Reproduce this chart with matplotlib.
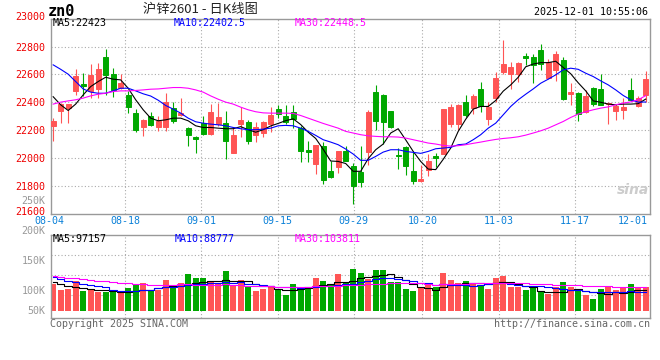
import numpy as np
import matplotlib
matplotlib.use('Agg')
import matplotlib.pyplot as plt
import matplotlib.transforms as mtransforms

# daily candles, 80 trading days 08-04 .. 12-01
opens = [22226, 22334, 22358, 22484, 22532, 22482, 22496, 22728, 22604, 22501,
         22453, 22322, 22219, 22303, 22219, 22219, 22358, 22310, 22214, 22150,
         22250, 22174, 22243, 22250, 22035, 22243, 22255, 22162, 22179, 22243,
         22353, 22298, 22329, 22214, 22054, 21959, 22088, 21904, 21932, 22052,
         21940, 21899, 22040, 22473, 22453, 22339, 22023, 22076, 21904, 21832,
         21916, 22016, 22030, 22243, 22243, 22401, 22358, 22496, 22281, 22430,
         22616, 22602, 22602, 22731, 22724, 22776, 22573, 22633, 22704, 22461,
         22465, 22327, 22506, 22496, 22387, 22334, 22341, 22489, 22370, 22449]
highs = [22286, 22392, 22390, 22640, 22609, 22673, 22680, 22783, 22645, 22602,
         22482, 22351, 22281, 22327, 22298, 22470, 22401, 22434, 22222, 22155,
         22303, 22389, 22394, 22334, 22219, 22363, 22274, 22255, 22262, 22363,
         22377, 22377, 22377, 22226, 22124, 22095, 22112, 21975, 22052, 22083,
         21963, 22088, 22346, 22525, 22458, 22339, 22071, 22088, 22040, 21952,
         22028, 22035, 22353, 22387, 22387, 22449, 22461, 22549, 22401, 22621,
         22848, 22692, 22688, 22757, 22745, 22817, 22709, 22771, 22724, 22537,
         22477, 22489, 22513, 22602, 22401, 22387, 22430, 22578, 22442, 22626]
lows = [22124, 22248, 22248, 22449, 22442, 22430, 22434, 22453, 22437, 22496,
        22320, 22186, 22155, 22226, 22195, 22195, 22250, 22298, 22088, 22035,
        22167, 22167, 22226, 21995, 22035, 22148, 22100, 22114, 22148, 22186,
        22286, 22243, 22214, 21968, 21968, 21887, 21815, 21856, 21889, 21975,
        21668, 21789, 21952, 22203, 22100, 22214, 21920, 21880, 21815, 21827,
        21873, 21932, 22030, 22219, 22203, 22291, 22315, 22329, 22234, 22401,
        22602, 22496, 22549, 22669, 22537, 22633, 22568, 22554, 22418, 22382,
        22267, 22322, 22370, 22377, 22243, 22274, 22281, 22410, 22365, 22401]
closes = [22262, 22387, 22387, 22590, 22520, 22597, 22640, 22597, 22485, 22537,
          22363, 22203, 22274, 22238, 22262, 22401, 22267, 22322, 22167, 22138,
          22174, 22329, 22291, 22119, 22162, 22274, 22124, 22222, 22255, 22310,
          22315, 22255, 22281, 22047, 22042, 22095, 21844, 21861, 22052, 21980,
          21796, 21827, 22327, 22267, 22255, 22219, 22016, 21940, 21832, 21851,
          21975, 21999, 22353, 22363, 22377, 22310, 22442, 22370, 22363, 22578,
          22673, 22652, 22680, 22721, 22669, 22673, 22692, 22747, 22425, 22473,
          22315, 22442, 22387, 22382, 22398, 22370, 22363, 22418, 22430, 22566]

ma5 = [22440, 22382, 22341, 22387, 22453, 22513, 22549, 22580, 22566, 22561,
       22501, 22418, 22346, 22286, 22267, 22274, 22286, 22286, 22267, 22231,
       22219, 22219, 22214, 22210, 22210, 22225, 22203, 22185, 22203, 22230,
       22248, 22268, 22281, 22240, 22185, 22140, 22062, 21978, 21975, 21960,
       21904, 21904, 21995, 22059, 22100, 22179, 22210, 22130, 22047, 21975,
       21920, 21916, 21990, 22071, 22191, 22278, 22351, 22370, 22370, 22413,
       22480, 22525, 22580, 22655, 22675, 22685, 22685, 22695, 22650, 22605,
       22540, 22482, 22410, 22400, 22387, 22382, 22387, 22387, 22390, 22423]
ma10 = [22669, 22637, 22602, 22549, 22496, 22473, 22465, 22465, 22482, 22501,
        22501, 22482, 22461, 22445, 22415, 22377, 22351, 22322, 22286, 22260,
        22250, 22243, 22238, 22231, 22219, 22210, 22203, 22203, 22207, 22214,
        22231, 22234, 22231, 22214, 22191, 22162, 22131, 22114, 22095, 22064,
        22028, 21983, 21983, 22011, 22042, 22059, 22059, 22047, 22040, 22033,
        22047, 22066, 22071, 22076, 22095, 22100, 22131, 22167, 22214, 22250,
        22310, 22370, 22418, 22458, 22496, 22537, 22566, 22597, 22633, 22645,
        22637, 22609, 22585, 22554, 22525, 22489, 22449, 22418, 22401, 22402]
ma30 = [22387, 22401, 22410, 22418, 22430, 22446, 22458, 22465, 22477, 22482,
        22482, 22485, 22489, 22494, 22496, 22501, 22506, 22506, 22501, 22489,
        22473, 22446, 22422, 22401, 22387, 22365, 22346, 22332, 22324, 22322,
        22322, 22322, 22320, 22305, 22286, 22267, 22248, 22231, 22214, 22191,
        22179, 22167, 22159, 22155, 22152, 22152, 22150, 22143, 22131, 22119,
        22107, 22100, 22090, 22085, 22088, 22095, 22105, 22114, 22124, 22133,
        22140, 22145, 22152, 22164, 22179, 22195, 22214, 22238, 22262, 22291,
        22315, 22332, 22346, 22358, 22367, 22382, 22394, 22403, 22418, 22448]

# volume in thousands of lots
volume = [111.7, 101.1, 102.8, 117.2, 99.4, 102.2, 97.8, 98.3, 100.6, 96.1,
          104.4, 110.0, 113.3, 101.7, 101.7, 117.8, 104.4, 112.8, 127.8, 121.1,
          121.1, 115.6, 111.1, 132.8, 108.9, 118.3, 106.1, 99.7, 102.8, 107.8,
          103.8, 92.8, 111.1, 101.1, 105.0, 121.7, 116.1, 111.7, 127.8, 115.6,
          136.1, 129.4, 119.4, 134.4, 134.4, 114.4, 114.4, 102.8, 99.4, 104.4,
          109.4, 106.1, 129.4, 117.8, 113.3, 116.1, 113.3, 110.6, 102.8, 121.1,
          124.4, 106.1, 106.1, 101.1, 107.8, 99.4, 94.4, 106.7, 114.4, 106.1,
          103.3, 92.8, 86.1, 102.8, 107.8, 101.1, 106.1, 111.1, 106.1, 106.1]
vol_ma5 = [115.6, 111.7, 108.9, 107.2, 105.6, 103.3, 102.2, 102.2, 100.0, 98.9,
           98.9, 100.6, 101.7, 101.7, 104.4, 107.2, 107.8, 108.9, 111.7, 113.3,
           114.4, 116.1, 117.2, 118.3, 117.2, 117.2, 116.1, 111.7, 108.9, 107.8,
           103.3, 101.7, 101.7, 103.3, 104.4, 107.8, 110.6, 111.7, 115.6, 115.6,
           117.2, 121.1, 123.9, 125.6, 126.7, 128.3, 122.8, 118.3, 111.7, 106.1,
           104.4, 102.2, 107.2, 110.0, 111.7, 113.3, 113.3, 113.3, 111.7, 113.3,
           114.4, 114.4, 111.7, 108.9, 106.1, 100.6, 97.8, 97.8, 98.9, 102.2,
           103.3, 100.6, 97.8, 96.7, 95.0, 97.8, 96.1, 98.9, 102.2, 102.2]
vol_ma10 = [123.9, 120.0, 116.1, 114.4, 111.7, 110.0, 107.8, 107.2, 102.2, 100.6,
            100.6, 100.6, 101.7, 102.2, 104.4, 106.1, 106.1, 107.8, 110.0, 111.7,
            112.2, 112.8, 112.8, 114.4, 113.3, 114.4, 111.7, 111.7, 110.6, 108.9,
            107.2, 106.1, 106.1, 104.4, 106.1, 107.2, 108.9, 108.9, 110.6, 111.7,
            111.7, 114.4, 117.2, 120.0, 121.7, 121.7, 120.0, 118.3, 117.2, 113.3,
            113.3, 110.0, 111.7, 110.0, 110.0, 110.0, 108.9, 110.0, 111.7, 113.3,
            113.3, 111.7, 110.0, 108.9, 108.9, 107.8, 106.1, 104.4, 103.3, 102.2,
            101.7, 100.6, 98.9, 98.9, 97.8, 97.8, 98.9, 99.4, 98.9, 97.8]
vol_ma30 = [124.4, 122.8, 121.7, 121.7, 120.0, 118.3, 117.2, 116.1, 114.4, 113.3,
            112.8, 111.7, 111.7, 110.6, 110.6, 110.6, 110.6, 111.1, 111.1, 110.6,
            110.0, 110.0, 110.6, 111.7, 110.6, 110.0, 108.9, 108.9, 107.8, 107.8,
            107.2, 107.2, 106.1, 107.2, 107.2, 107.8, 107.8, 108.9, 108.9, 110.0,
            110.0, 110.6, 111.1, 111.7, 112.2, 113.3, 113.3, 113.3, 113.3, 112.8,
            111.7, 110.6, 111.7, 111.7, 111.7, 112.2, 112.8, 113.3, 113.3, 113.3,
            113.3, 113.3, 113.3, 113.3, 111.7, 111.7, 111.7, 110.6, 110.6, 110.0,
            110.0, 108.9, 108.9, 107.8, 107.8, 106.1, 106.1, 106.1, 106.1, 106.1]

date_labels = ['08-04', '08-18', '09-01', '09-15', '09-29', '10-20', '11-03', '11-17', '12-01']
date_index = [0, 10, 20, 30, 40, 49, 59, 69, 79]
price_ticks = [21600, 21800, 22000, 22200, 22400, 22600, 22800, 23000]
vol_ticks = [250, 200, 150, 100, 50]
vol_tick_labels = ['250K', '200K', '150K', '100K', '50K']

RED = '#ff5555'
GREEN = '#00a800'
GRID = '#aaaaaa'
BORDER = '#999999'
W, H = 660, 360

plt.rcParams['font.family'] = ['DejaVu Sans Mono']


def px(x, y):
    # pixel position in the 660x360 image -> figure fraction
    return x / W, 1 - y / H


def grid_pos(i):
    # sina's date grid runs at a slightly wider pitch than the bars
    return (i * 7.62 - 4.2) / 7.5


opens = np.array(opens)
closes = np.array(closes)
x = np.arange(len(closes))
colors = np.where(closes >= opens, RED, GREEN)
vol_base = 66.7

fig = plt.figure(figsize=(W / 100, H / 100), dpi=100)
fig.patch.set_facecolor('white')
ax = fig.add_axes([50.7 / W, 1 - 213.6 / H, 599.3 / W, 194.8 / H])
axv = fig.add_axes([50.7 / W, 1 - 318 / H, 599.3 / W, 83 / H])

xmin, xmax = -0.33, 79.57

# price panel
ax.set_xlim(xmin, xmax)
ax.set_ylim(21600, 23000)
for t in price_ticks[1:-1]:
    ax.axhline(t, color=GRID, lw=0.8, ls=(0, (1, 2)), zorder=0)
for i in date_index:
    ax.axvline(grid_pos(i), color=GRID, lw=0.8, ls=(0, (1, 2)), zorder=0)
    axv.axvline(grid_pos(i), color=GRID, lw=0.8, ls=(0, (1, 2)), zorder=0)

ax.vlines(x, lows, highs, colors=colors, lw=0.8, zorder=2)
ax.bar(x, np.abs(closes - opens), bottom=np.minimum(opens, closes), width=0.7,
       color=colors, edgecolor=colors, linewidth=0.7, zorder=3)
ax.plot(x, ma5, color='black', lw=0.8, zorder=4)
ax.plot(x, ma10, color='#0000ff', lw=0.8, zorder=4)
ax.plot(x, ma30, color='#ff00ff', lw=0.8, zorder=4)

ax.set_xticks([])
ax.set_yticks(price_ticks)
ax.set_yticklabels([str(t) for t in price_ticks])
ax.tick_params(axis='y', length=0, pad=3.6, labelcolor='#ee0000', labelsize=7.2)
# end labels sit a few pixels higher, as in the original
lift = mtransforms.ScaledTranslation(0, 3 / 100, fig.dpi_scale_trans)
tl = ax.get_yticklabels()
for lab in (tl[0], tl[-1]):
    lab.set_transform(lab.get_transform() + lift)

trans = mtransforms.blended_transform_factory(ax.transData, ax.transAxes)
for i, lab in zip(date_index, date_labels):
    pos = grid_pos(i)
    if pos > xmax:
        ax.text(xmax - 0.3, -0.04, lab, transform=trans, ha='right', va='center',
                color='#0a80d8', fontsize=7.2, clip_on=False)
    else:
        ax.text(pos, -0.04, lab, transform=trans, ha='center', va='center',
                color='#0a80d8', fontsize=7.2, clip_on=False)

# volume panel
axv.set_xlim(xmin, xmax)
axv.set_ylim(55, 193)
for f in [0.755, 0.514, 0.273]:
    axv.plot([0, 1], [f, f], transform=axv.transAxes, color=GRID, lw=0.8,
             ls=(0, (1, 2)), zorder=0)
axv.bar(x, np.array(volume) - vol_base, bottom=vol_base, width=0.76, color=colors, zorder=2)
axv.plot(x, vol_ma5, color='black', lw=0.8, drawstyle='steps-mid', zorder=3)
axv.plot(x, vol_ma10, color='#0000ff', lw=0.8, drawstyle='steps-mid', zorder=3)
axv.plot(x, vol_ma30, color='#ff00ff', lw=0.8, drawstyle='steps-mid', zorder=3)
axv.set_xticks([])
axv.set_yticks([])
for v, lab in zip(vol_ticks, vol_tick_labels):
    axv.text(-0.0083, max(v, vol_base), lab, transform=axv.get_yaxis_transform(),
             ha='right', va='center', color='#999999', fontsize=7.2, clip_on=False)

for a in (ax, axv):
    for s in a.spines.values():
        s.set_color(BORDER)
        s.set_linewidth(1)

# header and legends
fig.text(*px(48, 12), 'zn0', ha='left', va='center', fontsize=11, fontweight='bold')
fig.text(*px(200, 10), '沪锌2601 - 日K线图', ha='center', va='center', fontsize=9.5,
         family=['Noto Sans CJK SC', 'DejaVu Sans'], color='#222222')
fig.text(*px(648, 12), '2025-12-01 10:55:06', ha='right', va='center', fontsize=7.2)

fig.text(*px(53, 23), 'MA5:22423', ha='left', va='center', fontsize=7.2, color='black')
fig.text(*px(174, 23), 'MA10:22402.5', ha='left', va='center', fontsize=7.2, color='#0000ff')
fig.text(*px(295, 23), 'MA30:22448.5', ha='left', va='center', fontsize=7.2, color='#ff00ff')
fig.text(*px(53, 239), 'MA5:97157', ha='left', va='center', fontsize=7.2, color='black')
fig.text(*px(175, 239), 'MA10:88777', ha='left', va='center', fontsize=7.2, color='#0000ff')
fig.text(*px(295, 239), 'MA30:103811', ha='left', va='center', fontsize=7.2, color='#ff00ff')

fig.text(*px(50, 324), 'Copyright 2025 SINA.COM', ha='left', va='center', fontsize=7.2, color='#666666')
fig.text(*px(650, 324), 'http://finance.sina.com.cn', ha='right', va='center', fontsize=7.2, color='#666666')
fig.text(*px(633, 190), 'sina', ha='center', va='center', fontsize=10, style='italic',
         fontweight='bold', color='#cccccc', family='DejaVu Sans')

fig.savefig('out.png', dpi=100)
